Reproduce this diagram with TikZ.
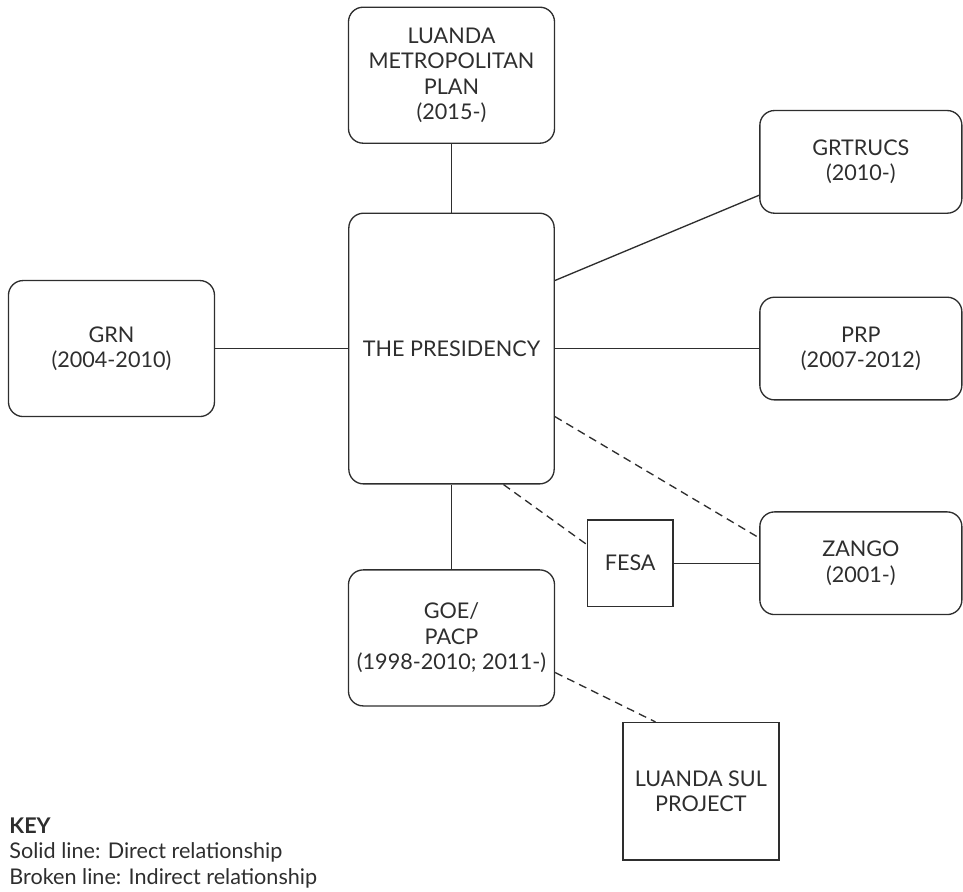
\documentclass[tikz,border=0pt]{standalone}
\usepackage{fontspec}
\setmainfont{Lato}
\usetikzlibrary{positioning}

\definecolor{ink}{HTML}{2E2E2E}

\begin{document}
\begin{tikzpicture}[on grid, color=ink, line width=1pt,
    font=\fontsize{16.2}{19}\selectfont,
    office/.style={draw, rounded corners=11pt, align=center, inner sep=0pt},
    block/.style={draw, align=center, inner sep=0pt},
    wide/.style={minimum width=154.5pt, minimum height=102pt},
    side/.style={minimum width=151.5pt, minimum height=77pt},
    broken/.style={dash pattern=on 6pt off 4pt}]
    \useasboundingbox (-338.6pt,-406.9pt) rectangle (383.6pt,261.4pt);
    \node[office, minimum width=154pt, minimum height=203pt] (pres) {THE PRESIDENCY};
    \node[office, wide] (lmp) [above=205pt of pres] {LUANDA\\METROPOLITAN\\PLAN\\(2015-)};
    \node[office, wide] (goe) [below=217pt of pres] {GOE/\\PACP\\(1998-2010; 2011-)};
    \node[office, wide] (grn) [left=255pt of pres] {GRN\\(2004-2010)};
    \node[office, side] (prp) [right=307pt of pres] {PRP\\(2007-2012)};
    \node[office, side] (grtrucs) [above=140pt of prp] {GRTRUCS\\(2010-)};
    \node[office, side] (zango) [below=161pt of prp] {ZANGO\\(2001-)};
    \node[block, minimum width=64pt, minimum height=65pt] (fesa) [left=173pt of zango] {FESA};
    \node[block, minimum width=117pt, minimum height=103pt] (lsul) [below right=115pt and 187pt of goe] {LUANDA SUL\\PROJECT};
    \node[align=left, anchor=base west, inner sep=0pt] (key) at (-332pt,-401.6pt)
      {\textbf{KEY}\\Solid line: Direct relationship\\Broken line: Indirect relationship};
    % solid lines: direct relationship
    \path
    (pres) edge (lmp)
      edge (goe)
      edge (grn)
      edge (prp)
    ([yshift=51pt]pres.east) edge ([yshift=-25pt]grtrucs.west)
    (fesa) edge (zango);
    % broken lines: indirect relationship
    \path[broken]
    ([yshift=-51pt]pres.east) edge ([yshift=19pt]zango.west)
    ([xshift=39pt]pres.south) edge ([yshift=14pt]fesa.west)
    ([yshift=-26pt]goe.east) edge ([xshift=-34pt]lsul.north);
\end{tikzpicture}
\end{document}
